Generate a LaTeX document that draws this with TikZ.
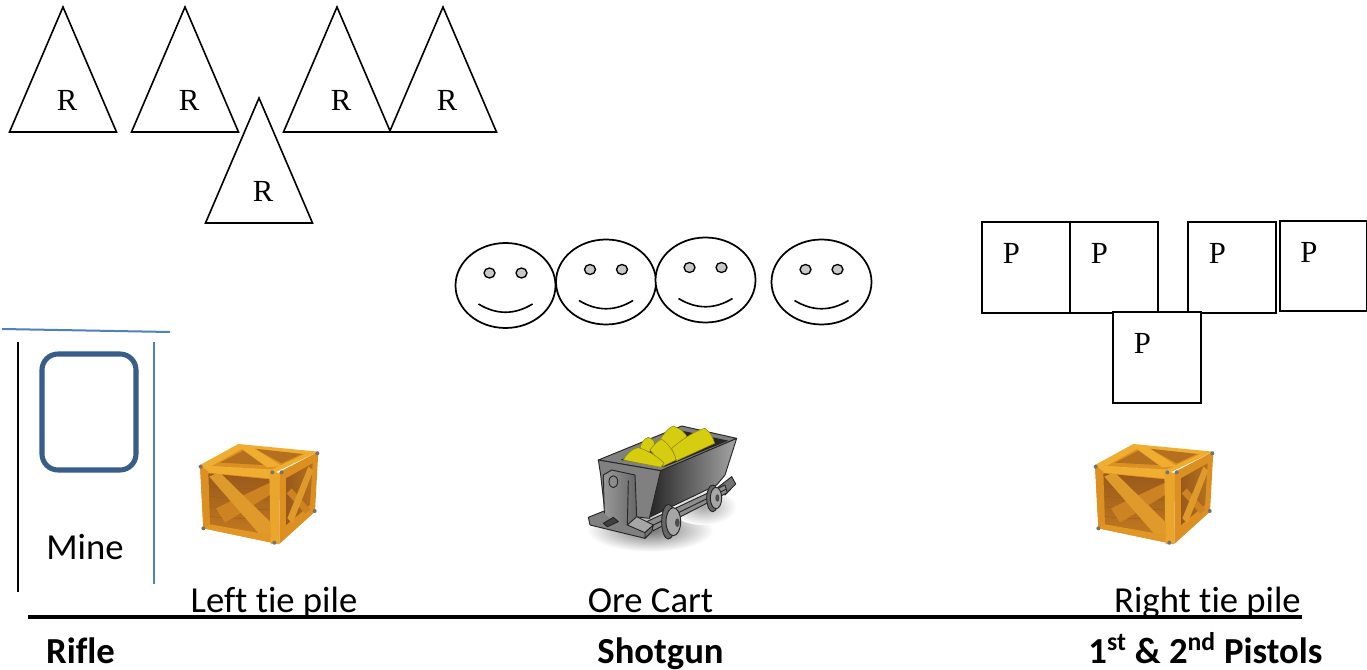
\documentclass[tikz,border=0pt]{standalone}
\usepackage{fontspec}
\setmainfont{Liberation Serif}
\newfontfamily\carlitofont[Ligatures=NoCommon]{Carlito}
\usetikzlibrary{calc}
\definecolor{lineblue}{HTML}{4F81BD}
\definecolor{boxblue}{HTML}{385D8A}
\definecolor{eyegray}{HTML}{C8C8C8}
\definecolor{woodlight}{HTML}{F0AE30}
\definecolor{woodmid}{HTML}{DD9022}
\definecolor{wooddark}{HTML}{B5701F}
\definecolor{wooddeep}{HTML}{99591A}
\definecolor{gold}{HTML}{D6CC10}
\definecolor{golddark}{HTML}{8F8A08}
\tikzset{
  tri/.style={draw=black,line width=1.2pt,fill=white,line join=miter},
  sq/.style={draw=black,line width=1.2pt,fill=white},
  letter/.style={font=\fontsize{23}{24}\selectfont,inner sep=0pt},
  smiley/.style={draw=black,line width=1.3pt,fill=white},
  eyeball/.style={draw=black,line width=1pt,fill=eyegray},
  smile/.style={draw=black,line width=1.2pt},
  txtlabel/.style={font=\carlitofont\fontsize{27.5}{30}\selectfont,inner sep=0pt,anchor=base},
  role/.style={font=\carlitofont\bfseries\fontsize{27.5}{30}\selectfont,inner sep=0pt,anchor=base},
  cartline/.style={draw=black!85,line width=.7pt,line join=round},
  nugget/.style={fill=gold,draw=golddark,line width=.4pt},
}
\newcommand{\mytri}[3]{% apex x, name, baseline
  \draw[tri] (#1,#3-125) -- (#1+53.5,#3) -- (#1-53.5,#3) -- cycle;
  \node[letter] (#2) at (#1+4,#3-32) {R};
}
\newcommand{\mysq}[3]{% left, top, name
  \draw[sq] (#1,#2) rectangle ++(88,91);
  \node[letter] (#3) at (#1+29.5,#2+31) {P};
}
\newcommand{\myface}[3]{% cx, cy, name
  \draw[smiley] (#1,#2) ellipse (50 and 42.5);
  \draw[eyeball] (#1-16,#2-12.5) ellipse (5.5 and 5);
  \draw[eyeball] (#1+16,#2-12.5) ellipse (5.5 and 5);
  \draw[smile] (#1-27,#2+18.5) .. controls (#1-9,#2+29.5) and (#1+9,#2+29.5) .. (#1+27,#2+18.5);
  \coordinate (#3) at (#1,#2);
}
\newcommand{\mycrate}[2]{% crop-origin x, y
\begin{scope}[shift={(#1,#2)},x=.25pt,y=-.25pt]
  % top
  \fill[woodlight] (60,105) -- (175,42) -- (415,65) -- (290,125) -- cycle;
  \fill[woodmid] (95,108) -- (190,55) -- (375,72) -- (275,118) -- cycle;
  \fill[wooddark] (120,98) -- (190,62) -- (250,105) -- cycle;
  \fill[wooddark] (225,56) -- (365,72) -- (305,100) -- cycle;
  \fill[woodlight] (180,52) -- (215,50) -- (305,108) -- (262,112) -- cycle;
  % front
  \fill[woodmid] (60,105) -- (290,125) -- (285,340) -- (70,295) -- cycle;
  \shade[top color=wooddeep,bottom color=wooddark!70!woodmid] (85,130) -- (270,148) -- (270,315) -- (88,285) -- cycle;
  \foreach \v in {170,200,230,260}{\draw[wooddeep,line width=.3pt] (90,\v) -- (266,\v+10);}
  \fill[wooddark!40!woodmid] (135,278) -- (108,235) -- (270,158) -- (270,195) -- cycle;
  \fill[woodlight!70!wooddark] (88,140) -- (118,126) -- (270,275) -- (270,318) -- (238,312) -- cycle;
  \fill[woodlight] (60,105) -- (290,125) -- (290,147) -- (84,128) -- cycle;
  \fill[woodmid] (60,105) -- (85,125) -- (90,288) -- (70,295) -- cycle;
  \fill[woodmid!80!woodlight] (70,295) -- (90,283) -- (270,315) -- (285,340) -- cycle;
  \fill[woodlight!70!woodmid] (268,128) -- (300,128) -- (298,342) -- (272,342) -- cycle;
  % right
  \fill[woodmid] (300,125) -- (415,65) -- (405,245) -- (298,342) -- cycle;
  \shade[left color=wooddeep,right color=wooddark] (318,145) -- (398,100) -- (390,225) -- (318,285) -- cycle;
  \fill[wooddark!40!woodmid] (320,190) -- (335,175) -- (392,240) -- (375,250) -- cycle;
  \fill[woodlight!70!wooddark] (322,265) -- (385,110) -- (400,122) -- (338,280) -- cycle;
  \foreach \p in {(62,110),(277,127),(305,127),(412,70),(70,295),(283,338),(404,243)}{\fill[black!55] \p circle (6);}
\end{scope}
}
\begin{document}
\begin{tikzpicture}[x=.75pt,y=-.75pt]
\useasboundingbox (0,0) rectangle (1367,670);
\fill[white] (0,0) rectangle (1367,670);
% triangles
\mytri{63}{r1}{132}
\mytri{185}{r2}{132}
\mytri{259}{r3}{223}
\mytri{337}{r4}{132}
\mytri{443}{r5}{132}
% faces
\myface{505.5}{285.5}{f1}
\myface{606}{282}{f2}
\myface{705.5}{280}{f3}
\myface{821.5}{282}{f4}
% squares
\mysq{982}{222}{p1}
\mysq{1070}{222}{p2}
\mysq{1188}{222}{p3}
\draw[sq] (1280,221) rectangle (1367,311);
\node[letter] (p4) at (1309,252) {P};
\mysq{1113}{312}{p5}
% mine
\draw[lineblue,line width=1.5pt] (2,329) -- (170,332);
\draw[black,line width=1.5pt] (18,342) -- (18,592);
\draw[lineblue,line width=1.5pt] (154,342) -- (154,584);
\draw[boxblue,line width=3.8pt,rounded corners=12pt] (42,354) rectangle (136,470);
\node[txtlabel] (mine) at (85,559) {Mine};
% crates
\mycrate{180}{430}
\mycrate{1075}{430}
% ore cart
\begin{scope}[shift={(570,410)},x=.25pt,y=-.25pt]
  \shade[inner color=black!55,outer color=white] (240,360) ellipse (190 and 65);
  \shade[inner color=black!35,outer color=white] (400,290) ellipse (100 and 55);
  % far rail
  \filldraw[fill=black!55,cartline] (440,235) -- (485,200) -- (497,222) -- (465,255) -- cycle;
  % body side
  \shade[left color=black!85,right color=black!35] (270,182) -- (500,85) -- (465,195) -- (440,225) -- (238,322) -- cycle;
  \draw[cartline] (270,182) -- (500,85) -- (465,195) -- (440,225) -- (238,322) -- cycle;
  % rim
  \filldraw[fill=black!50,cartline] (85,150) -- (335,48) -- (500,85) -- (272,182) -- cycle;
  \fill[black!85] (152,150) -- (335,62) -- (475,92) -- (285,170) -- cycle;
  % gold
  \filldraw[nugget] (262,102) .. controls (280,70) and (300,50) .. (310,48) .. controls (330,55) and (350,70) .. (352,85) -- (315,135) -- cycle;
  \filldraw[nugget] (305,115) .. controls (340,85) and (380,60) .. (405,55) .. controls (420,65) and (430,85) .. (434,100) -- (320,152) -- cycle;
  \filldraw[nugget] (210,112) .. controls (215,95) and (225,85) .. (235,82) .. controls (250,88) and (255,95) .. (255,105) -- (230,135) -- cycle;
  \filldraw[nugget] (240,120) .. controls (250,105) and (265,90) .. (275,88) .. controls (295,100) and (315,130) .. (318,150) -- (280,168) -- cycle;
  \filldraw[nugget] (160,150) .. controls (175,125) and (190,115) .. (205,113) .. controls (230,120) and (265,140) .. (282,160) -- (272,172) -- cycle;
  % front face
  \filldraw[fill=black!50,cartline] (85,150) -- (272,182) -- (238,325) -- (105,310) -- (92,195) -- cycle;
  % axle rail
  \filldraw[fill=black!45,cartline] (230,335) -- (465,225) -- (472,248) -- (250,362) -- cycle;
  \draw[cartline] (240,350) -- (468,238);
  % far wheel
  \filldraw[fill=black!60,cartline] (428,265) ellipse (18 and 40);
  \filldraw[fill=black!35,cartline] (438,264) ellipse (17 and 32);
  \fill[black!70] (442,264) ellipse (6 and 11);
  % base
  \filldraw[fill=black!50,cartline] (55,322) -- (105,302) -- (125,315) -- (235,368) -- (225,385) -- (60,345) -- cycle;
  % post
  \shade[left color=black!40,right color=black!60] (100,195) -- (125,180) -- (195,195) -- (200,318) -- (172,348) -- (125,330) -- (103,310) -- cycle;
  \draw[cartline] (100,195) -- (125,180) -- (195,195) -- (200,318);
  \draw[cartline] (100,195) -- (103,310);
  \draw[cartline] (175,212) -- (172,345);
  \filldraw[fill=black!45,cartline] (130,215) ellipse (13 and 18);
  % step block
  \filldraw[fill=black!35,cartline] (172,345) -- (200,320) -- (250,345) -- (225,368) -- cycle;
  \filldraw[fill=black!55,cartline] (225,368) -- (250,345) -- (245,365) -- (225,385) -- cycle;
  \filldraw[fill=black!75,cartline] (100,340) -- (130,322) -- (145,335) -- (112,350) -- cycle;
  % near wheel
  \filldraw[fill=black!60,cartline] (295,335) ellipse (20 and 52);
  \filldraw[fill=black!35,cartline] (310,335) ellipse (22 and 42);
  \fill[black!70] (322,338) ellipse (7 and 13);
\end{scope}
% labels
\node[txtlabel] (lt) at (274,612) {Left tie pile};
\node[txtlabel] (oc) at (650.5,612) {Ore Cart};
\node[txtlabel] (rt) at (1207.5,612) {Right tie pile};
\draw[black,line width=2.4pt] (28,617) -- (1302,617);
\node[role] (rifle) at (80.5,663) {Rifle};
\node[role] (shot) at (660.5,663) {Shotgun};
\node[role] (pist) at (1205.5,663) {1\textsuperscript{st} \& 2\textsuperscript{nd} Pistols};
\end{tikzpicture}
\end{document}
